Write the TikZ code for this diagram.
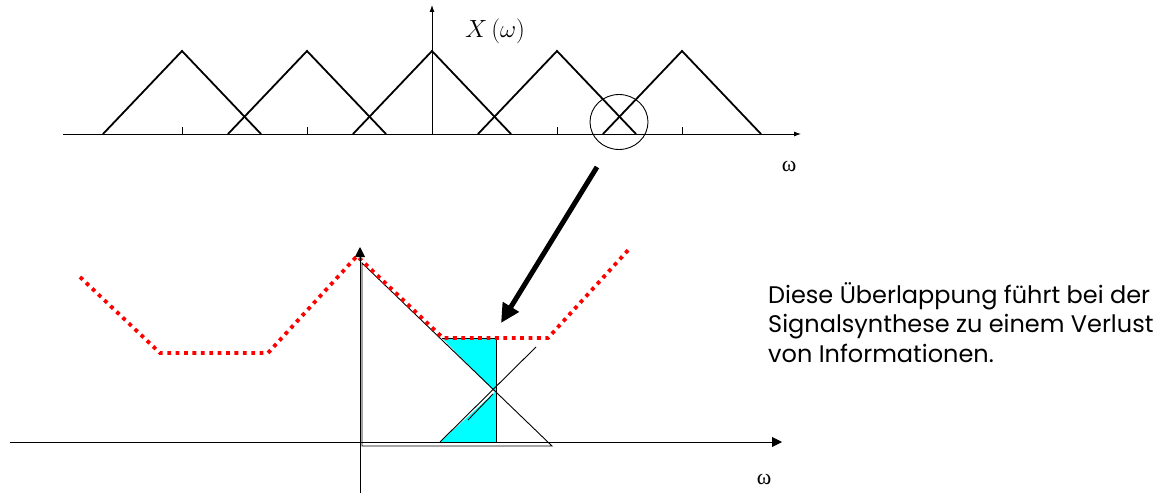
\documentclass[tikz,border=0pt]{standalone}
\usepackage{fontspec}
\setmainfont{Poppins}
\newfontfamily\omegafont{Liberation Serif}
\usetikzlibrary{arrows.meta}
\definecolor{aqua}{RGB}{0,255,255}
\begin{document}
\begin{tikzpicture}[x=1pt,y=-1pt,
  axis/.style={line width=0.9pt,black},
  tri/.style={line width=1.8pt,black,line join=miter},
  thin/.style={line width=0.9pt,black},
  reddot/.style={red,line width=3.8pt,dash pattern=on 3.8pt off 4.6pt},
  bigarrow/.style={line width=5pt,-{Triangle[length=19pt,width=18pt]}},
  smallarrow/.style={-{Latex[length=7pt,width=5pt]}},
  midarrow/.style={-{Triangle[length=10pt,width=10pt]}},
  omegalbl/.style={font=\omegafont\fontsize{22}{22}\selectfont,inner sep=0pt}
]
\useasboundingbox (0,0) rectangle (1160,495);
% ---------- top spectrum ----------
\draw[axis,smallarrow] (63,134) -- (801,134);
\draw[axis,smallarrow] (432,134) -- (432,5);
\foreach \c in {182,307,557,682} \draw[thin] (\c,127) -- (\c,134);
\foreach \c in {182,307,432,557,682}
  \draw[tri] (\c-79,134) -- (\c,51) -- (\c+79,134);
\draw[thin] (619,122) ellipse [x radius=29, y radius=27.5];
\node[inner sep=0pt,font=\fontsize{24}{24}\selectfont] (Xw) at (495,31) {$X\,(\omega)$};
\node[omegalbl] (w1) at (789,166) {ω};
% ---------- big arrow ----------
\coordinate (aS) at (597,167);
\coordinate (aE) at (501,323);
\draw[bigarrow] (aS) -- (aE);
% ---------- bottom ----------
\fill[aqua] (442,338) -- (496,338) -- (496,442) -- (440,442) -- (495,392) -- cycle;
\draw[thin] (442,338) -- (496,338) -- (496,442);
\draw[thin] (362,263) -- (552,446) -- (362,446) -- cycle;
\draw[thin] (440,442) -- (536,347);
\draw[thin] (468,420) -- (493,394);
\draw[reddot] (80,277) -- (160,353) -- (268,353) -- (357,256) -- (443,338) -- (548,338) -- (631,247);
\draw[axis,midarrow] (10,442) -- (782,442);
\draw[axis,midarrow] (360,493) -- (360,247);
\node[omegalbl] (w2) at (764,479) {ω};
% ---------- text ----------
\node[anchor=north west,align=left,inner sep=0pt,
      font=\fontsize{24}{29.5}\selectfont] (txt) at (768,282)
  {Diese Überlappung führt bei der\\Signalsynthese zu einem Verlust\\von Informationen.};
\end{tikzpicture}
\end{document}
